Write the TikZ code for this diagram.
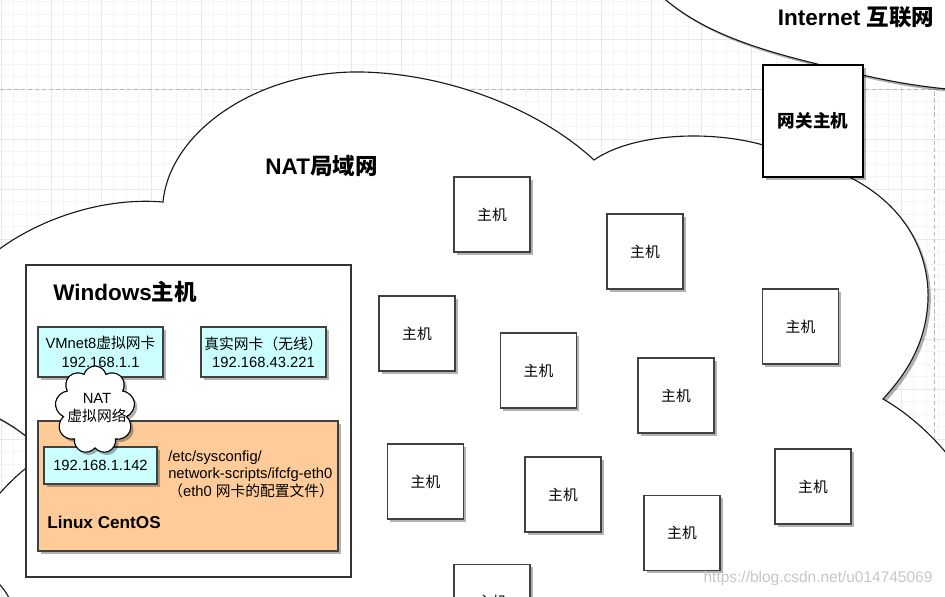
\documentclass[tikz,border=0pt]{standalone}
\usepackage{fontspec}
\setmainfont{Liberation Sans}
\newfontfamily\cjk{Noto Sans CJK SC}
\newcommand\zh[1]{{\cjk #1}}
\usepackage{tikz}
\usetikzlibrary{shapes.symbols,shadows,positioning}
\definecolor{nicfill}{HTML}{CCFFFF}
\definecolor{vmfill}{HTML}{FFCC99}
\tikzset{
  sombra/.style={drop shadow={shadow xshift=0.07cm,shadow yshift=-0.07cm,fill=black,opacity=0.3}},
  gridmenor/.style={draw=black!4,line width=0.5pt},
  gridmayor/.style={draw=black!9,line width=0.6pt},
  pagina/.style={draw=black!28,line width=0.6pt,dash pattern=on 3pt off 2pt},
  nube/.style={fill=white,draw=black!90,line width=0.8pt,sombra},
  hostbox/.style={draw=black!75,fill=white,line width=1pt,minimum width=1.9cm,minimum height=1.875cm,inner sep=0pt,sombra,font=\fontsize{10.5}{12.8}\selectfont},
  nicbox/.style={draw=black!75,fill=nicfill,line width=1pt,inner sep=0pt,sombra,align=center,font=\fontsize{10.5}{13}\selectfont},
  titulo/.style={font=\fontsize{16}{19}\selectfont\bfseries,inner sep=0pt}
}
\begin{document}
\begin{tikzpicture}[x=0.025cm,y=-0.025cm]
\useasboundingbox (0,0) rectangle (945,597);
\clip (0,0) rectangle (945,597);
\fill[white] (0,0) rectangle (945,597);
% rejilla
\foreach \gx in {1,13.5,...,945} \draw[gridmenor] (\gx,0) -- (\gx,597);
\foreach \gy in {1.5,14,...,597} \draw[gridmenor] (0,\gy) -- (945,\gy);
\foreach \gx in {1,51,...,945} \draw[gridmayor] (\gx,0) -- (\gx,597);
\foreach \gy in {39,89,...,597} \draw[gridmayor] (0,\gy) -- (945,\gy);
\draw[pagina] (0,89) -- (945,89);
\draw[pagina] (934,0) -- (934,597);
% nube internet
\path[nube] (655,-10) .. controls (690,25) and (740,45) .. (813,63)
  .. controls (850,72) and (900,86) .. (960,90) -- (960,-30) -- (655,-30) -- cycle;
\node[titulo] (inet) at (856,17) {Internet \zh{互联网}};
% nube NAT
\path[nube] (-40,290) .. controls (-10,240) and (80,195) .. (163,202)
  .. controls (170,130) and (260,70) .. (362,72)
  .. controls (450,74) and (540,110) .. (594,160)
  .. controls (640,128) and (745,128) .. (800,160)
  .. controls (890,180) and (930,240) .. (928,300)
  .. controls (926,345) and (905,375) .. (883,399)
  .. controls (920,420) and (960,460) .. (990,520)
  -- (990,650) -- (30,650)
  .. controls (20,620) and (10,595) .. (0,585)
  .. controls (-15,570) and (-50,555) .. (-30,530)
  .. controls (0,490) and (20,470) .. (45,455)
  .. controls (20,425) and (-20,405) .. (-60,400) -- cycle;
\node[titulo] (natlan) at (321.5,166) {NAT\zh{局域网}};
% gateway
\node[hostbox,draw=black,line width=0.9pt,minimum width=2.5cm,minimum height=2.8cm,font=\fontsize{12.5}{15}\selectfont\bfseries] (gw) at (813,121) {\zh{网关主机}};
% hosts
\foreach \hx/\hy [count=\i] in {492/214.5,645/251.5,417/333.5,538.5/370.5,676/395.5,800.5/326.5,425.5/481.5,563/494.5,682/533,813/486.5,492/602}
  \node[hostbox] (host\i) at (\hx,\hy) {\zh{主机}};
% windows
\node[draw=black!80,fill=white,line width=1pt,minimum width=8.125cm,minimum height=7.8cm] (win) at (188.5,421) {};
\node[titulo,anchor=west] (wintxt) at (53,292) {Windows\zh{主机}};
\node[nicbox,minimum width=3.125cm,minimum height=1.25cm] (vmnet) at (100.5,352) {VMnet8\zh{虚拟网卡}\\192.168.1.1};
\node[nicbox,minimum width=3.125cm,minimum height=1.25cm] (wlan) at (263.5,352) {\zh{真实网卡（无线）}\\192.168.43.221};
% centos
\node[draw=black!75,fill=vmfill,line width=1pt,minimum width=7.5cm,minimum height=3.25cm,sombra] (centos) at (188,486) {};
\node[nicbox,minimum width=2.825cm,minimum height=0.925cm] (eth0) at (100.5,465.5) {192.168.1.142};
\node[anchor=west,align=left,inner sep=0pt,font=\fontsize{10.5}{12.4}\selectfont] (cfg) at (168,474) {/etc/sysconfig/\\network-scripts/ifcfg-eth0\\\zh{（}eth0 \zh{网卡的配置文件）}};
\node[anchor=west,inner sep=0pt,font=\fontsize{12.2}{14}\selectfont\bfseries] (ostxt) at (47,522) {Linux CentOS};
% nube NAT virtual
\node[cloud,cloud puffs=9,aspect=0.9,draw=black,fill=white,line width=0.8pt,sombra,minimum width=2cm,minimum height=2.2cm,inner sep=0pt] (natvirt) at (95,410) {};
\node[align=center,inner sep=0pt,font=\fontsize{10.5}{13}\selectfont] (nattxt) at (97,408) {NAT\\\zh{虚拟网络}};
\node[text=black!22,inner sep=0pt,font=\fontsize{11}{12}\selectfont] (marca) at (818,578) {https://blog.csdn.net/u014745069};
\end{tikzpicture}
\end{document}
